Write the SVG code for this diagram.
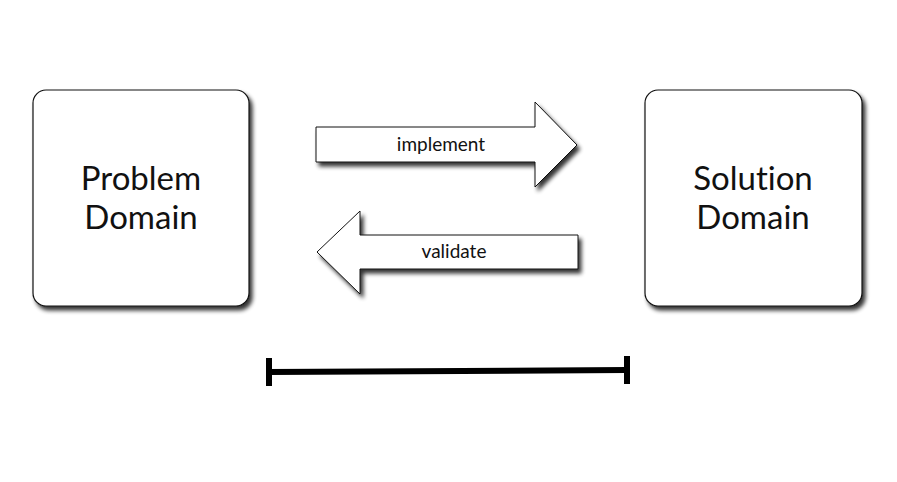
<svg xmlns="http://www.w3.org/2000/svg" width="897" height="482" viewBox="0 0 897 482">
  <defs>
    <filter id="shadow" x="-10%" y="-10%" width="130%" height="130%">
      <feGaussianBlur in="SourceAlpha" stdDeviation="2"/>
      <feOffset dx="3" dy="4" result="b"/>
      <feComponentTransfer><feFuncA type="linear" slope="0.8"/></feComponentTransfer>
      <feMerge><feMergeNode/><feMergeNode in="SourceGraphic"/></feMerge>
    </filter>
    <style>
      .box { fill: #ffffff; stroke: #111111; stroke-width: 1.2; filter: url(#shadow); }
      .arrow { fill: #ffffff; stroke: #111111; stroke-width: 1; stroke-linejoin: miter; filter: url(#shadow); }
      text { font-variant-ligatures: none; }
      .big { font-family: Lato, "Open Sans", "Liberation Sans", sans-serif; font-size: 33px; fill: #111111; text-anchor: middle; }
      .small { font-family: Lato, "Open Sans", "Liberation Sans", sans-serif; font-size: 19px; fill: #111111; text-anchor: middle; }
      .bar { stroke: #000000; stroke-width: 6; fill: none; }
    </style>
  </defs>
  <rect width="897" height="482" fill="#ffffff"/>

  <g id="problem-domain">
    <rect class="box" x="33" y="90" width="216" height="216" rx="13"/>
    <text class="big" x="141" y="190">Problem</text>
    <text class="big" x="141" y="229">Domain</text>
  </g>

  <g id="solution-domain">
    <rect class="box" x="645" y="90" width="217" height="216" rx="13"/>
    <text class="big" x="753" y="190">Solution</text>
    <text class="big" x="753" y="229">Domain</text>
  </g>

  <g id="connectors">
    <g id="implement">
      <path class="arrow" d="M316,127 L535,127 L535,102 L577,145 L535,187 L535,162 L316,162 Z"/>
      <text class="small" x="441" y="151">implement</text>
    </g>
    <g id="validate">
      <path class="arrow" d="M578,235 L360,235 L360,211 L317,252 L360,294 L360,269 L578,269 Z"/>
      <text class="small" x="454" y="258">validate</text>
    </g>
  </g>

  <g id="scale-bar">
    <line class="bar" x1="269" y1="372" x2="627" y2="370"/>
    <line class="bar" x1="269" y1="358" x2="269" y2="386"/>
    <line class="bar" x1="627" y1="356" x2="627" y2="384"/>
  </g>
</svg>
